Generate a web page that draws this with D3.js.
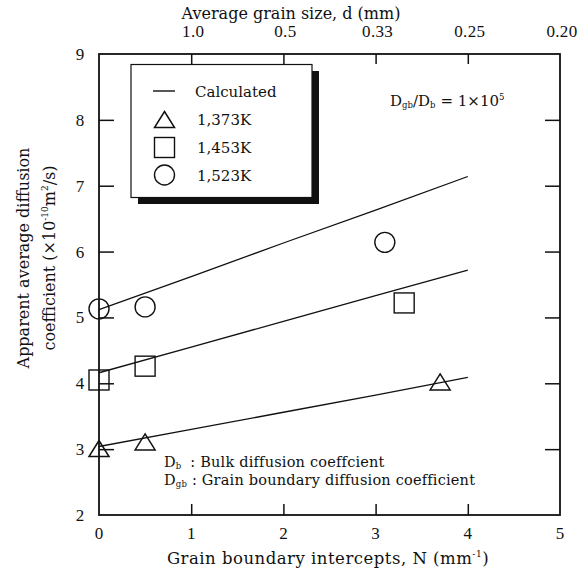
<!DOCTYPE html>
<html>
<head>
<meta charset="utf-8">
<script src="https://cdn.jsdelivr.net/npm/d3@7"></script>
<style>
  html, body { margin: 0; padding: 0; background: #fff; }
  svg { display: block; font-family: "DejaVu Serif", "Liberation Serif", serif; }
  .num { font-family: "Liberation Serif", "DejaVu Serif", serif; }
</style>
</head>
<body>
<svg id="chart" width="588" height="576"></svg>
<script>
// Grain boundary intercepts N (mm^-1) on the bottom axis
const xTicks = [0, 1, 2, 3, 4, 5];
const yTicks = [2, 3, 4, 5, 6, 7, 8, 9];
// Top axis: average grain size d = 1/N (mm)
const topTickN = [1, 2, 3, 4, 5];
const topTickLabels = ["1.0", "0.5", "0.33", "0.25", "0.20"];

// Measured apparent diffusion coefficients (x10^-10 m^2/s)
const seriesNames = ["1,373K", "1,453K", "1,523K"];
const n1373 = [0, 0.5, 3.7];
const d1373 = [3.01, 3.11, 4.02];
const n1453 = [0, 0.5, 3.31];
const d1453 = [4.05, 4.26, 5.22];
const n1523 = [0, 0.5, 3.1];
const d1523 = [5.13, 5.16, 6.14];

// Calculated curves (Dgb/Db = 1x10^5)
const calcN = [0, 1, 2, 3, 4];
const calc1373 = [3.04, 3.30, 3.56, 3.82, 4.09];
const calc1453 = [4.16, 4.55, 4.94, 5.33, 5.72];
const calc1523 = [5.12, 5.62, 6.13, 6.63, 7.14];

const svg = d3.select("#chart");
const x = d3.scaleLinear().domain([0, 5]).range([99, 560]);
const y = d3.scaleLinear().domain([2, 9]).range([515, 54]);

const ink = "#111";

// Frame
svg.append("rect")
  .attr("x", x(0)).attr("y", y(9))
  .attr("width", x(5) - x(0)).attr("height", y(2) - y(9))
  .attr("fill", "none").attr("stroke", ink).attr("stroke-width", 1.8);

// Bottom axis (ticks pointing inward)
const gx = svg.append("g").attr("transform", `translate(0,${y(2)})`)
  .call(d3.axisTop(x).tickValues(xTicks).tickSize(11).tickFormat(""));
gx.select(".domain").remove();
gx.selectAll(".tick line").attr("stroke", ink).attr("stroke-width", 1.5)
  .filter(d => d === 0 || d === 5).remove();
svg.append("g").attr("class", "num").selectAll("text").data(xTicks).join("text")
  .attr("x", d => x(d)).attr("y", 539)
  .attr("text-anchor", "middle").attr("font-size", 17).attr("fill", ink)
  .text(d => d);

// Top axis: grain size labels
const gt = svg.append("g").attr("transform", `translate(0,${y(9)})`)
  .call(d3.axisBottom(x).tickValues(topTickN.filter(d => d < 5)).tickSize(10).tickFormat(""));
gt.select(".domain").remove();
gt.selectAll(".tick line").attr("stroke", ink).attr("stroke-width", 1.5);
svg.append("g").attr("class", "num").selectAll("text").data(topTickN).join("text")
  .attr("x", d => x(d) + 2).attr("y", 37)
  .attr("text-anchor", "middle").attr("font-size", 17).attr("fill", ink)
  .attr("letter-spacing", 0.3)
  .text((d, i) => topTickLabels[i]);

// Left axis
const gl = svg.append("g").attr("transform", `translate(${x(0)},0)`)
  .call(d3.axisRight(y).tickValues(yTicks.filter(d => d > 2 && d < 9)).tickSize(15).tickFormat(""));
gl.select(".domain").remove();
gl.selectAll(".tick line").attr("stroke", ink).attr("stroke-width", 1.5);
svg.append("g").attr("class", "num").selectAll("text").data(yTicks).join("text")
  .attr("x", 80).attr("y", d => y(d) + 6)
  .attr("text-anchor", "middle").attr("font-size", 17).attr("fill", ink)
  .text(d => d);

// Right axis
const gr = svg.append("g").attr("transform", `translate(${x(5)},0)`)
  .call(d3.axisLeft(y).tickValues(yTicks.filter(d => d > 2 && d < 9)).tickSize(15).tickFormat(""));
gr.select(".domain").remove();
gr.selectAll(".tick line").attr("stroke", ink).attr("stroke-width", 1.5);

// Axis titles
svg.append("text")
  .attr("x", 291).attr("y", 19)
  .attr("text-anchor", "middle").attr("font-size", 16).attr("fill", ink)
  .text("Average grain size, d (mm)");

const xt = svg.append("text")
  .attr("x", 328).attr("y", 564)
  .attr("text-anchor", "middle").attr("font-size", 16.5).attr("fill", ink)
  .attr("letter-spacing", 0.5);
xt.append("tspan").text("Grain boundary intercepts, N (mm");
xt.append("tspan").attr("font-size", 9).attr("dy", -7).text("-1");
xt.append("tspan").attr("dy", 7).text(")");

const yt = svg.append("g").attr("transform", "translate(0,258) rotate(-90)");
yt.append("text").attr("x", 0).attr("y", 29)
  .attr("text-anchor", "middle").attr("font-size", 16).attr("fill", ink)
  .text("Apparent average diffusion");
const yt2 = yt.append("text").attr("x", 0).attr("y", 55)
  .attr("text-anchor", "middle").attr("font-size", 16).attr("fill", ink);
yt2.append("tspan").text("coefficient (×10");
yt2.append("tspan").attr("font-size", 9).attr("dy", -7).text("-10");
yt2.append("tspan").attr("dy", 7).text("m");
yt2.append("tspan").attr("font-size", 9).attr("dy", -7).text("2");
yt2.append("tspan").attr("dy", 7).text("/s)");

// Calculated lines
const line = d3.line().x((d, i) => x(calcN[i])).y(d => y(d));
[calc1373, calc1453, calc1523].forEach(c => {
  svg.append("path").datum(c).attr("d", line)
    .attr("fill", "none").attr("stroke", ink).attr("stroke-width", 1.3);
});

// Markers
const drawTri = (g, cx, cy) => {
  const h = 16, w = 20;
  g.append("path")
    .attr("d", `M${cx},${cy - h / 2} L${cx + w / 2},${cy + h / 2} L${cx - w / 2},${cy + h / 2} Z`)
    .attr("fill", "none").attr("stroke", ink).attr("stroke-width", 1.5);
};
const drawSq = (g, cx, cy) => {
  g.append("rect").attr("x", cx - 10).attr("y", cy - 10)
    .attr("width", 20).attr("height", 20)
    .attr("fill", "none").attr("stroke", ink).attr("stroke-width", 1.4);
};
const drawCi = (g, cx, cy) => {
  g.append("circle").attr("cx", cx).attr("cy", cy).attr("r", 10)
    .attr("fill", "none").attr("stroke", ink).attr("stroke-width", 1.4);
};
const marks = svg.append("g");
n1373.forEach((n, i) => drawTri(marks, x(n), y(d1373[i])));
n1453.forEach((n, i) => drawSq(marks, x(n), y(d1453[i])));
n1523.forEach((n, i) => drawCi(marks, x(n), y(d1523[i])));

// Legend with drop shadow
const lg = svg.append("g");
lg.append("rect").attr("x", 138).attr("y", 71).attr("width", 181).attr("height", 133)
  .attr("fill", ink);
lg.append("rect").attr("x", 131).attr("y", 64.5).attr("width", 181).attr("height", 133)
  .attr("fill", "#fff").attr("stroke", ink).attr("stroke-width", 1.2);
const rows = [91, 119.5, 147.5, 175];
lg.append("line").attr("x1", 153).attr("x2", 175).attr("y1", rows[0]).attr("y2", rows[0])
  .attr("stroke", ink).attr("stroke-width", 1.4);
drawTri(lg, 164.5, rows[1]);
drawSq(lg, 164.5, rows[2]);
drawCi(lg, 164.5, rows[3]);
const legendLabels = ["Calculated"].concat(seriesNames);
lg.selectAll("text.lab").data(legendLabels).join("text").attr("class", "lab")
  .attr("x", (d, i) => i === 0 ? 195 : 197).attr("y", (d, i) => rows[i] + 5.5)
  .attr("font-size", 15).attr("fill", ink)
  .text(d => d);

// Ratio annotation
const ra = svg.append("text").attr("x", 390).attr("y", 106)
  .attr("font-size", 15).attr("fill", ink);
ra.append("tspan").text("D");
ra.append("tspan").attr("font-size", 8.5).attr("dy", 2).text("gb");
ra.append("tspan").attr("dy", -2).text("/D");
ra.append("tspan").attr("font-size", 8.5).attr("dy", 2).text("b");
ra.append("tspan").attr("dy", -2).attr("dx", 5).text("= 1×10");
ra.append("tspan").attr("font-size", 8.5).attr("dy", -6).text("5");

// Symbol definitions
const defs1 = svg.append("text").attr("x", 164).attr("y", 467)
  .attr("font-size", 14.5).attr("fill", ink).attr("letter-spacing", 0.2);
defs1.append("tspan").text("D");
defs1.append("tspan").attr("font-size", 8.5).attr("dy", 2).text("b");
defs1.append("tspan").attr("dy", -2).attr("dx", 4).text(" : Bulk diffusion coeffcient");
const defs2 = svg.append("text").attr("x", 164).attr("y", 485)
  .attr("font-size", 14.5).attr("fill", ink).attr("letter-spacing", 0.2);
defs2.append("tspan").text("D");
defs2.append("tspan").attr("font-size", 8.5).attr("dy", 2).text("gb");
defs2.append("tspan").attr("dy", -2).text(" : Grain boundary diffusion coefficient");
</script>
</body>
</html>
